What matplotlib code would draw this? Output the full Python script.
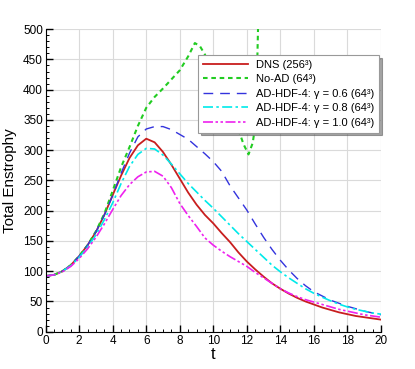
import numpy as np
import matplotlib
matplotlib.use("Agg")
import matplotlib.pyplot as plt
from matplotlib.ticker import MultipleLocator

plt.rcParams['font.family'] = ['Liberation Sans', 'DejaVu Sans']

# time axis shared by the read-off curves
t = np.arange(0, 20.5, 0.5)

dns = [92, 94, 100, 110, 125, 143, 165, 193, 226, 258, 287, 308, 319, 313, 297, 276,
       253, 230, 210, 193, 179, 163, 148, 131, 116, 103, 91, 80, 71, 63, 56, 50,
       45, 40, 36, 32, 29, 26, 24, 22, 20]

g06 = [92, 94, 100, 110, 125, 143, 165, 193, 225, 262, 295, 322, 335, 339, 339, 334,
       326, 318, 306, 294, 281, 265, 241, 221, 201, 178, 156, 136, 118, 102, 88, 76,
       66, 59, 52, 47, 42, 38, 34, 31, 28]

g08 = [92, 94, 100, 109, 123, 140, 160, 185, 213, 245, 273, 293, 303, 302, 292, 277,
       261, 245, 231, 217, 204, 190, 176, 162, 149, 136, 123, 110, 99, 89, 80, 71,
       63.5, 57, 51, 45.5, 41, 37, 34, 31, 29]

g10 = [92, 94, 99, 108, 121, 137, 156, 178, 202, 225, 243, 256, 264, 265, 257, 238,
       212, 192, 174, 155, 143, 133, 124, 116, 108, 98, 89, 80, 71, 64, 58, 53,
       49, 45, 41, 37, 34, 31, 28, 26, 24]

# No-AD run blows up after t ~ 12.6
t_noad = [0, 0.5, 1, 1.5, 2, 2.5, 3, 3.5, 4, 4.5, 5, 5.5, 6, 6.5, 7, 7.5, 8, 8.5,
          8.9, 9.2, 9.5, 10, 10.5, 11, 11.5, 11.8, 12.1, 12.35, 12.5, 12.6, 12.7]
noad = [92, 94, 100, 110, 125, 143, 166, 195, 233, 272, 305, 340, 370, 388, 402, 417,
        432, 455, 477, 472, 458, 425, 395, 365, 334, 310, 293, 312, 340, 420, 540]

labels = ['DNS (256³)', 'No-AD (64³)',
          'AD-HDF-4: γ = 0.6 (64³)',
          'AD-HDF-4: γ = 0.8 (64³)',
          'AD-HDF-4: γ = 1.0 (64³)']

fig = plt.figure(figsize=(4.15, 3.69), dpi=100)
ax = fig.add_axes([0.110, 0.101, 0.808, 0.820])

ax.plot(t, dns, color='#c81e1e', lw=1.3, label=labels[0])
ax.plot(t_noad, noad, color='#22cc22', lw=1.5, dashes=(2.2, 1.8), label=labels[1])
ax.plot(t, g06, color='#3333dd', lw=1.0, dashes=(7, 5), label=labels[2])
ax.plot(t, g08, color='#00eaea', lw=1.2, dashes=(6, 2, 1.5, 2), label=labels[3])
ax.plot(t, g10, color='#ee22ee', lw=1.2, dashes=(6, 1.5, 1.5, 1.5, 1.5, 1.5), label=labels[4])

ax.set_xlim(0, 20)
ax.set_ylim(0, 500)
ax.xaxis.set_major_locator(MultipleLocator(2))
ax.xaxis.set_minor_locator(MultipleLocator(0.5))
ax.yaxis.set_major_locator(MultipleLocator(50))
ax.yaxis.set_minor_locator(MultipleLocator(10))
ax.tick_params(which='major', direction='in', length=5, width=1, labelsize=8.5, pad=2)
ax.tick_params(which='minor', direction='in', length=2.5, width=0.7)
ax.grid(True, which='major', color='#dadada', lw=0.8)
ax.set_axisbelow(True)
for s in ['top', 'right']:
    ax.spines[s].set_visible(False)

ax.set_xlabel('t', fontsize=12, labelpad=0)
ax.set_ylabel('Total Enstrophy', fontsize=11, labelpad=4)

leg = ax.legend(loc='upper right', bbox_to_anchor=(0.994, 0.915), fontsize=8,
                frameon=True, fancybox=False, shadow=True, framealpha=1,
                edgecolor='#999999', handlelength=4.0, borderpad=0.45,
                labelspacing=0.4, handletextpad=0.7, borderaxespad=0)
leg.get_frame().set_linewidth(0.8)

fig.savefig('out.png', dpi=100)
